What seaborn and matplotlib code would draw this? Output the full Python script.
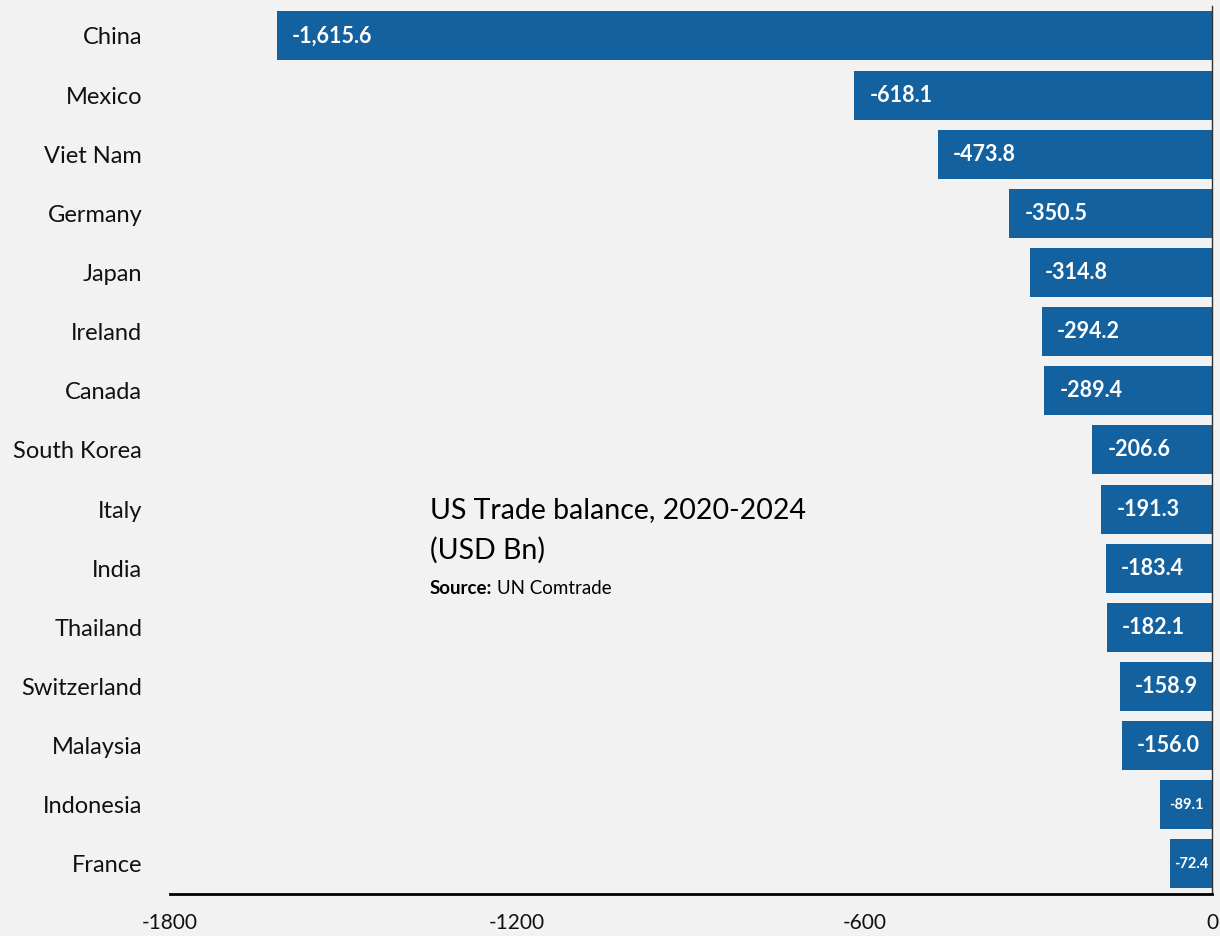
import matplotlib
matplotlib.use("Agg")
import matplotlib.pyplot as plt
import seaborn as sns
import pandas as pd

countries = ["China", "Mexico", "Viet Nam", "Germany", "Japan", "Ireland", "Canada",
             "South Korea", "Italy", "India", "Thailand", "Switzerland", "Malaysia",
             "Indonesia", "France"]
balance = [-1615.6, -618.1, -473.8, -350.5, -314.8, -294.2, -289.4,
           -206.6, -191.3, -183.4, -182.1, -158.9, -156.0, -89.1, -72.4]
x_ticks = [-1800, -1200, -600, 0]

df = pd.DataFrame({"country": countries, "balance": balance})

sns.set_theme(style="white")
plt.rcParams["font.family"] = ["Lato", "DejaVu Sans"]

BG = "#f2f2f2"
BAR = "#1461a0"

fig = plt.figure(figsize=(12.2, 9.36), dpi=100, facecolor=BG)
ax = fig.add_axes([0.1393, 0.0454, 0.9934 - 0.1393, 0.9932 - 0.0454])
ax.set_facecolor(BG)

sns.barplot(data=df, x="balance", y="country", orient="h", color=BAR,
            saturation=1, width=0.83, linewidth=0, ax=ax)

ax.set_xlim(-1800, 0)
ax.set_ylim(len(countries) - 0.5, -0.5)
ax.set_xticks(x_ticks)
ax.set_xticklabels([str(t) for t in x_ticks], fontsize=15, color="#111111")
ax.tick_params(axis="x", length=0, pad=14)
ax.tick_params(axis="y", length=0, pad=20, labelsize=17, labelcolor="#111111")
ax.set_xlabel("")
ax.set_ylabel("")

for s in ["top", "left"]:
    ax.spines[s].set_visible(False)
ax.spines["bottom"].set_color("black")
ax.spines["bottom"].set_linewidth(2)
ax.spines["right"].set_color("#333333")
ax.spines["right"].set_linewidth(1)

for i, v in enumerate(balance):
    label = f"{v:,.1f}"
    if abs(v) < 100:
        ax.annotate(label, xy=(v / 2, i), ha="center", va="center",
                    color="white", fontweight="bold", fontsize=10.5)
    else:
        ax.annotate(label, xy=(v, i), xytext=(11, 0),
                    textcoords="offset points", ha="left", va="center",
                    color="white", fontweight="bold", fontsize=15.5)

fig.text(430 / 1220, 1 - 510 / 936, "US Trade balance, 2020-2024",
         ha="left", va="center", fontsize=20.5, color="black")
fig.text(430 / 1220, 1 - 550 / 936, "(USD Bn)",
         ha="left", va="center", fontsize=20.5, color="black")
t1 = fig.text(430 / 1220, 1 - 589 / 936, "Source:", ha="left", va="center",
              fontsize=13.5, fontweight="bold", color="black")
fig.canvas.draw()
bb = t1.get_window_extent()
fig.text((bb.x1 + 5) / 1220, 1 - 589 / 936, "UN Comtrade", ha="left", va="center",
         fontsize=13.5, color="black")

fig.savefig("out.png", dpi=100, facecolor=BG)
